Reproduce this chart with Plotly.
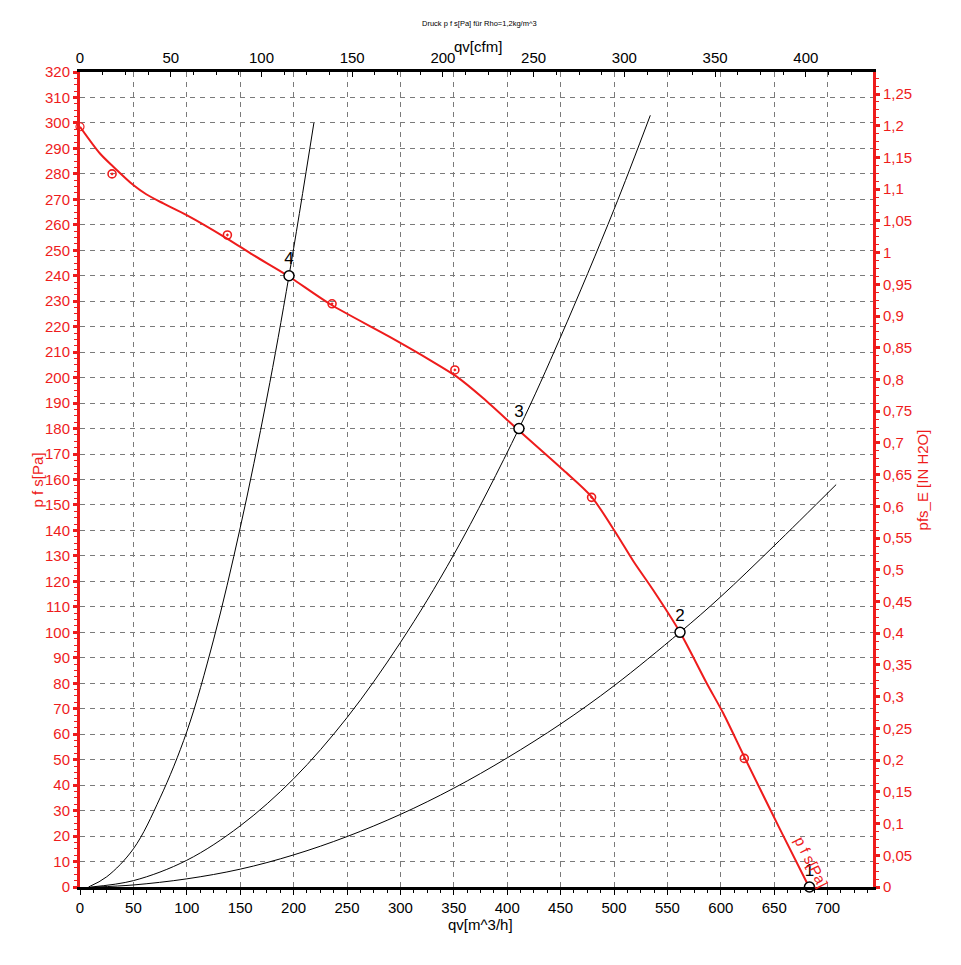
import plotly.graph_objects as go

# ---- data ----
fan_q = [0, 18.7, 31.2, 49.9, 62, 78, 99.9, 137.3, 162.3, 193.5, 234, 290, 327.7, 352.7,
         377.6, 410.4, 452.5, 479, 502.5, 518, 536.8, 561.8, 586.8, 602.3, 622.7, 655, 682.6]
fan_p = [298.5, 288, 282.8, 275.6, 272.0, 268.4, 263.8, 254.7, 248.1, 240.3, 228.9, 216, 206.9, 200.4,
         191.9, 179.4, 163.7, 153.2, 138.5, 128, 116.5, 100, 80, 68.2, 50.5, 23, 0]

meas_q = [30, 138, 236, 351, 479, 622]
meas_p = [280, 256, 229, 203, 153, 50.5]

sys4_q = [8, 25, 50, 75, 100, 125, 150, 175, 195.7, 219]
sys4_p = [0, 4, 15, 35, 61, 97, 141, 192, 240, 300]
sys3_q = [10, 50, 100, 150, 200, 250, 300, 350, 411, 450, 500, 534]
sys3_p = [0, 2.5, 10.5, 24, 42.5, 66.5, 96, 130.5, 180, 216, 266, 303]
sys2_q = [15, 50, 100, 150, 200, 250, 300, 350, 400, 450, 500, 561.8, 600, 650, 708]
sys2_p = [0, 0.8, 3.2, 7, 12.6, 19.8, 28.5, 38.8, 50.7, 64, 79, 100, 114, 134, 158]

op_q = [683, 561.8, 411, 195.7]
op_p = [0, 100, 180, 240]
op_labels = ["1", "2", "3", "4"]

x_ticks = [0, 50, 100, 150, 200, 250, 300, 350, 400, 450, 500, 550, 600, 650, 700]
cfm_ticks = [0, 50, 100, 150, 200, 250, 300, 350, 400]
pa_ticks = list(range(0, 321, 10))
inh2o_ticks = [0, 0.05, 0.1, 0.15, 0.2, 0.25, 0.3, 0.35, 0.4, 0.45, 0.5, 0.55, 0.6, 0.65,
               0.7, 0.75, 0.8, 0.85, 0.9, 0.95, 1.0, 1.05, 1.1, 1.15, 1.2, 1.25]
inh2o_labels = ["0", "0,05", "0,1", "0,15", "0,2", "0,25", "0,3", "0,35", "0,4", "0,45",
                "0,5", "0,55", "0,6", "0,65", "0,7", "0,75", "0,8", "0,85", "0,9", "0,95",
                "1", "1,05", "1,1", "1,15", "1,2", "1,25"]

X_MAX = 742.5          # m^3/h
P_MAX = 320            # Pa
CFM = 1.699011         # m^3/h per cfm
PA_PER_INH2O = 249.089

FONT = "Liberation Sans, Arial, sans-serif"
RED = "#ee1c1c"

fig = go.Figure()

for q, p in [(sys4_q, sys4_p), (sys3_q, sys3_p), (sys2_q, sys2_p)]:
    fig.add_trace(go.Scatter(x=q, y=p, mode="lines", line=dict(color="black", width=1, shape="spline"),
                             showlegend=False, hoverinfo="skip"))

fig.add_trace(go.Scatter(x=fan_q, y=fan_p, mode="lines", line=dict(color=RED, width=2, shape="spline", smoothing=0.8),
                         showlegend=False))
fig.add_trace(go.Scatter(x=[fan_q[0]], y=[fan_p[0]], mode="markers",
                         marker=dict(symbol="circle-open", size=8, color=RED, line=dict(width=1.2)),
                         showlegend=False, cliponaxis=False))
fig.add_trace(go.Scatter(x=meas_q, y=meas_p, mode="markers",
                         marker=dict(symbol="circle-open-dot", size=8, color=RED, line=dict(width=1.6)),
                         showlegend=False))
fig.add_trace(go.Scatter(x=op_q, y=op_p, mode="markers+text", text=op_labels,
                         textposition="top center",
                         textfont=dict(family=FONT, size=17, color="black"),
                         marker=dict(symbol="circle", size=10, color="white", line=dict(color="black", width=1.5)),
                         showlegend=False, cliponaxis=False))

# invisible traces to activate secondary axes
fig.add_trace(go.Scatter(x=[0], y=[0], xaxis="x2", yaxis="y", mode="markers",
                         marker=dict(opacity=0), showlegend=False, hoverinfo="skip"))
fig.add_trace(go.Scatter(x=[0], y=[0], xaxis="x", yaxis="y2", mode="markers",
                         marker=dict(opacity=0), showlegend=False, hoverinfo="skip"))

tickfont_black = dict(family=FONT, size=15, color="black")
tickfont_red = dict(family=FONT, size=15, color=RED)

fig.update_layout(
    width=945, height=949,
    margin=dict(l=72, r=80, t=64, b=70),
    paper_bgcolor="white", plot_bgcolor="white",
    font=dict(family=FONT),
    showlegend=False,
    xaxis=dict(range=[0, X_MAX], tickmode="array", tickvals=x_ticks, tickfont=tickfont_black,
               showline=True, linecolor="black", linewidth=3, mirror=False,
               ticks="outside", ticklen=5, tickcolor="black", tickwidth=1,
               minor=dict(dtick=12.5, tick0=0, ticks="outside", ticklen=3, tickcolor="black", showgrid=False),
               showgrid=True, gridcolor="#7a7a7a", griddash="5px,5px", gridwidth=1,
               zeroline=False, automargin=False),
    xaxis2=dict(range=[0, X_MAX / CFM], overlaying="x", side="top", tickmode="array", tickvals=cfm_ticks,
                tickfont=tickfont_black, showline=True, linecolor="black", linewidth=3,
                ticks="inside", ticklen=5, tickcolor="black",
                minor=dict(dtick=12.5, tick0=0, ticks="inside", ticklen=3, tickcolor="black", showgrid=False),
                showgrid=False, zeroline=False, automargin=False),
    yaxis=dict(range=[0, P_MAX], tickmode="array", tickvals=pa_ticks, tickfont=tickfont_red,
               showline=True, linecolor=RED, linewidth=3,
               ticks="outside", ticklen=4, tickwidth=3, tickcolor=RED,
               minor=dict(dtick=2.5, tick0=0, ticks="outside", ticklen=3, tickwidth=1, tickcolor=RED, showgrid=False),
               showgrid=True, gridcolor="#7a7a7a", griddash="5px,5px", gridwidth=1,
               zeroline=False, automargin=False),
    yaxis2=dict(range=[0, P_MAX / PA_PER_INH2O], overlaying="y", side="right", tickmode="array",
                tickvals=inh2o_ticks, ticktext=inh2o_labels, tickfont=tickfont_red,
                showline=True, linecolor=RED, linewidth=3,
                ticks="outside", ticklen=4, tickwidth=3, tickcolor=RED,
                minor=dict(dtick=0.0125, tick0=0, ticks="outside", ticklen=3, tickwidth=1, tickcolor=RED, showgrid=False),
                showgrid=False, zeroline=False, automargin=False),
)

# titles placed as annotations (paper coords relative to plot area)
title_common = dict(xref="paper", yref="paper", showarrow=False, xanchor="center", yanchor="middle")
fig.add_annotation(x=0.504, y=1.0589, text="Druck p f s[Pa] für Rho=1,2kg/m^3",
                   font=dict(family=FONT, size=7.5, color="black"), **title_common)
fig.add_annotation(x=0.502, y=1.0318, text="qv[cfm]",
                   font=dict(family=FONT, size=15, color="black"), **title_common)
fig.add_annotation(x=0.505, y=-0.0465, text="qv[m^3/h]",
                   font=dict(family=FONT, size=15, color="black"), **title_common)
fig.add_annotation(x=-0.0530, y=0.500, text="p f s[Pa]", textangle=-90,
                   font=dict(family=FONT, size=15, color=RED), **title_common)
fig.add_annotation(x=1.0630, y=0.500, text="pfs_E [IN H2O]", textangle=-90,
                   font=dict(family=FONT, size=15, color=RED), **title_common)

fig.add_annotation(x=684.5, y=10, text="p f s[Pa]", showarrow=False, textangle=63,
                   xanchor="center", yanchor="middle",
                   font=dict(family=FONT, size=15, color=RED), xref="x", yref="y")

fig.write_html("out.html")
